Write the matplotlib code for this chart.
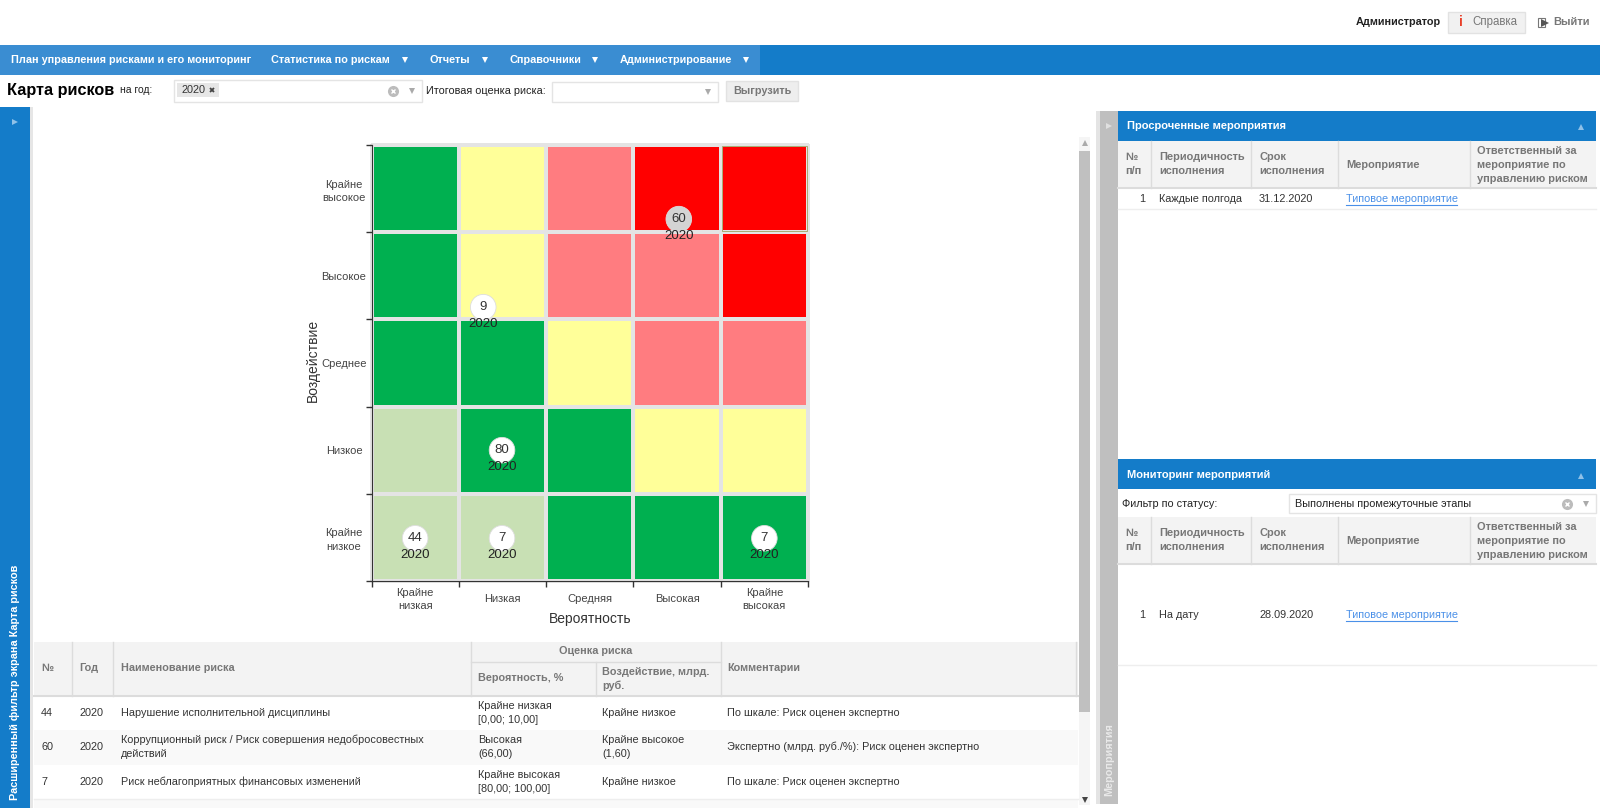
#!/usr/bin/env python3
"""
Карта рисков: экран с матрицей 5x5, таблицей рисков и панелями мероприятий.
"""
import matplotlib
matplotlib.use("Agg")
import matplotlib.pyplot as plt
from matplotlib.colors import ListedColormap
from matplotlib.patches import Rectangle

plt.rcParams["font.family"] = ["Liberation Sans", "DejaVu Sans"]

# ── Данные ─────────────────────────────────────────────────────────────────────
prob_labels = ["Крайне\nнизкая", "Низкая", "Средняя", "Высокая", "Крайне\nвысокая"]
impact_labels = ["Крайне\nнизкое", "Низкое", "Среднее", "Высокое", "Крайне\nвысокое"]

# снизу вверх; 0 светло-зеленый, 1 зеленый, 2 желтый, 3 розовый, 4 красный
levels = [
    [0, 0, 1, 1, 1],
    [0, 1, 1, 2, 2],
    [1, 1, 2, 3, 3],
    [1, 2, 3, 3, 4],
    [1, 2, 3, 4, 4],
]
level_colors = ["#c8e0b4", "#00b050", "#ffff99", "#ff7c80", "#ff0000"]

risk_ids = [60, 9, 80, 44, 7, 7]
risk_x = [3.52, 1.28, 1.495, 0.50, 1.495, 4.50]
risk_y = [4.15, 3.14, 1.50, 0.49, 0.49, 0.49]
risk_years = [2020, 2020, 2020, 2020, 2020, 2020]
risk_fill = ["#d4d4d4", "white", "white", "white", "white", "white"]

nav_items = ["План управления рисками и его мониторинг", "Статистика по рискам",
             "Отчеты", "Справочники", "Администрирование"]
nav_x = [11, 271, 430, 509, 620]
nav_arrows = [405, 485, 595, 746]

risk_rows = [
    ("44", "2020", "Нарушение исполнительной дисциплины", "Крайне низкая\n[0,00; 10,00]",
     "Крайне низкое", "По шкале: Риск оценен экспертно"),
    ("60", "2020", "Коррупционный риск / Риск совершения недобросовестных\nдействий", "Высокая\n(66,00)",
     "Крайне высокое\n(1,60)", "Экспертно (млрд. руб./%): Риск оценен экспертно"),
    ("7", "2020", "Риск неблагоприятных финансовых изменений", "Крайне высокая\n[80,00; 100,00]",
     "Крайне низкое", "По шкале: Риск оценен экспертно"),
]

event_cols = ["№\nп/п", "Периодичность\nисполнения", "Срок\nисполнения", "Мероприятие",
              "Ответственный за\nмероприятие по\nуправлению риском"]
event_sep = [1151, 1251, 1338, 1470]
event_text_x = [1125, 1159, 1259, 1346, 1477]

BLUE = "#147cc9"
NAV = "#3a8dd2"
HEAD = "#f3f3f3"
LINE = "#dcdcdc"
GRAY = "#777777"
TEXT = "#333333"
LINK = "#4a90e8"

fig = plt.figure(figsize=(16, 8.08), dpi=100)
ui = fig.add_axes([0, 0, 1, 1])
ui.set_xlim(0, 1600)
ui.set_ylim(808, 0)
ui.axis("off")


def rect(x0, y0, x1, y1, color, edge="none", lw=0):
    ui.add_patch(Rectangle((x0, y0), x1 - x0, y1 - y0, facecolor=color, edgecolor=edge, linewidth=lw))


def txt(x, y, s, size=7.8, color=TEXT, weight="normal", ha="left", rotation=0, va="center"):
    ui.text(x, y, s, fontsize=size, color=color, fontweight=weight, ha=ha, va=va,
            rotation=rotation, linespacing=1.5, rotation_mode="anchor")


def tri(x, y, marker="v", color="white", size=4):
    ui.plot([x], [y], marker=marker, color=color, markersize=size, markeredgewidth=0)


def clear_icon(x, y):
    ui.plot([x], [y], marker="o", color="#bcbcbc", markersize=8, markeredgewidth=0)
    ui.plot([x], [y], marker="x", color="white", markersize=3.5, markeredgewidth=1)


def event_table(y0, y1):
    rect(1118, y0, 1596, y1, HEAD)
    ui.plot([1118, 1596], [y1, y1], color=LINE, lw=1.5)
    for x in event_sep:
        ui.plot([x, x], [y0, y1], color=LINE, lw=1)
    ym = (y0 + y1) / 2
    for x, s in zip(event_text_x, event_cols):
        txt(x, ym, s, size=7.9, color=GRAY, weight="bold")


def event_row(y, line_y, num, period, date):
    txt(1145, y, num, ha="right")
    txt(1159, y, period)
    txt(1259, y, date)
    txt(1346, y, "Типовое мероприятие", color=LINK)
    ui.plot([1346, 1457], [y + 6, y + 6], color=LINK, lw=0.8)
    ui.plot([1118, 1596], [line_y, line_y], color="#eeeeee", lw=1)


# ── Шапка и меню ───────────────────────────────────────────────────────────────
txt(1356, 22, "Администратор", weight="bold", color="#222222")
ui.add_patch(Rectangle((1448, 12), 77, 21, facecolor="#f1f1f1", edgecolor="#e2e2e2", linewidth=1))
txt(1461, 22.5, "i", size=10, color="#e8402a", weight="bold", ha="center")
txt(1472, 22, "Справка", color=GRAY, size=8.3)
ui.add_patch(Rectangle((1538, 18), 7, 9, facecolor="none", edgecolor="#777777", linewidth=0.8))
tri(1545, 22.5, ">", "#555555", 6)
txt(1553, 22, "Выйти", color=GRAY, size=8, weight="bold")

rect(0, 45, 1600, 75, BLUE)
rect(0, 45, 760, 75, NAV)
for x, s in zip(nav_x, nav_items):
    txt(x, 60, s, size=7.8, color="white", weight="bold")
for x in nav_arrows:
    tri(x, 60)

# ── Фильтры ────────────────────────────────────────────────────────────────────
txt(7, 91, "Карта рисков", size=11.7, color="black", weight="bold")
txt(120, 90, "на год:", size=7.5, color="#222222")
ui.add_patch(Rectangle((173.5, 80), 248.5, 22, facecolor="white", edgecolor="#e4e4e4", linewidth=1))
ui.add_patch(Rectangle((177, 83), 42, 14, facecolor="#e6e6e6", edgecolor="none"))
txt(181, 90, "2020", size=7.8)
ui.plot([212], [90], marker="x", color="#444444", markersize=3.5, markeredgewidth=1.3)
clear_icon(393, 91)
tri(412, 91, "v", "#aaaaaa", 4)
txt(426, 91, "Итоговая оценка риска:", size=7.8, color="#222222")
ui.add_patch(Rectangle((552, 82), 166, 20, facecolor="white", edgecolor="#e4e4e4", linewidth=1))
tri(708, 92, "v", "#aaaaaa", 4)
ui.add_patch(Rectangle((725.5, 81), 72.5, 20, facecolor="#eeeeee", edgecolor="#e2e2e2", linewidth=1))
txt(762, 91, "Выгрузить", size=7.8, color=GRAY, weight="bold", ha="center")

# ── Боковые панели и прокрутка ─────────────────────────────────────────────────
rect(0, 107, 30, 808, BLUE)
rect(30, 107, 33, 808, "#e6e6e6")
tri(15, 122, ">", "#8fc1e8", 5)
txt(15, 800, "Расширенный фильтр экрана Карта рисков", size=7.8, color="white", weight="bold",
    rotation=90, va="center")

rect(1079, 137, 1090, 805, "#f5f5f5")
rect(1079, 151, 1090, 712, "#c0c0c0")
tri(1084.5, 143, "^", "#aaaaaa", 4)
tri(1084.5, 800, "v", "#444444", 4)

rect(1096, 111, 1100, 804, "#e4e4e4")
rect(1100, 111, 1118, 804, "#bfbfbf")
tri(1109, 126, ">", "#e0e0e0", 5)
txt(1109, 796, "Мероприятия", size=7.8, color="#e9e9e9", weight="bold", rotation=90)

# ── Панель просроченных мероприятий ────────────────────────────────────────────
rect(1118, 111, 1596, 141, BLUE)
txt(1127, 126, "Просроченные мероприятия", size=8, color="white", weight="bold")
tri(1581, 127, "^", "#8fc1e8", 5)
event_table(141, 188)
event_row(199, 209, "1", "Каждые полгода", "31.12.2020")

# ── Панель мониторинга ─────────────────────────────────────────────────────────
rect(1118, 459, 1596, 489, BLUE)
txt(1127, 475, "Мониторинг мероприятий", size=8, color="white", weight="bold")
tri(1581, 476, "^", "#8fc1e8", 5)
txt(1122, 504, "Фильтр по статусу:", color="#222222")
ui.add_patch(Rectangle((1289, 494), 307, 19, facecolor="white", edgecolor="#e4e4e4", linewidth=1))
txt(1295, 504, "Выполнены промежуточные этапы", color="#222222")
clear_icon(1567, 504)
tri(1586, 504, "v", "#aaaaaa", 4)
event_table(517, 564)
event_row(615, 665, "1", "На дату", "28.09.2020")

# ── Таблица рисков ─────────────────────────────────────────────────────────────
rect(34, 642, 1078, 696, HEAD)
ui.plot([34, 1078], [696, 696], color=LINE, lw=1.5)
for x in [72, 113, 471, 720.5, 1076]:
    ui.plot([x, x], [642, 696], color=LINE, lw=1)
ui.plot([595.5, 595.5], [662, 696], color=LINE, lw=1)
ui.plot([471, 720.5], [662, 662], color=LINE, lw=1)
txt(595.5, 651, "Оценка риска", color=GRAY, weight="bold", ha="center")
txt(478, 678, "Вероятность, %", color=GRAY, weight="bold")
txt(602, 679, "Воздействие, млрд.\nруб.", color=GRAY, weight="bold")
txt(41, 668, "№", color=GRAY, weight="bold")
txt(79, 668, "Год", color=GRAY, weight="bold")
txt(121, 668, "Наименование риска", color=GRAY, weight="bold")
txt(727, 668, "Комментарии", color=GRAY, weight="bold")

rect(34, 730, 1078, 765, "#f9f9f9")
rect(34, 799, 1078, 808, "#f9f9f9")
ui.plot([34, 1078], [799, 799], color="#eeeeee", lw=1)
row_y = [713, 747, 782]
col_x = [41, 79, 121, 478, 602, 727]
for y, row in zip(row_y, risk_rows):
    for x, s in zip(col_x, row):
        txt(x, y, s)

# ── Матрица рисков ─────────────────────────────────────────────────────────────
ax = fig.add_axes([371.5 / 1600, 1 - 581 / 808, 436.5 / 1600, 436 / 808])
ax.set_xlim(0, 5)
ax.set_ylim(0, 5)
ax.pcolormesh(range(6), range(6), levels, cmap=ListedColormap(level_colors), vmin=0, vmax=4,
              edgecolors="#e4e4e4", linewidth=1.5, clip_on=False)
ax.add_patch(Rectangle((4.012, 4.012), 0.976, 0.976, facecolor="none", edgecolor="#a0a060", linewidth=0.6))
ax.set_facecolor("none")
ax.scatter(risk_x, risk_y, s=340, c=risk_fill, edgecolors="#dddddd", linewidths=0.6, zorder=3, clip_on=False)
for x, y, i, yr in zip(risk_x, risk_y, risk_ids, risk_years):
    ax.text(x, y, str(i), fontsize=9.5, color="#333333", ha="center", va="center", zorder=4)
    ax.annotate(str(yr), (x, y), xytext=(0, -12), textcoords="offset points", fontsize=9.5,
                color="#222222", ha="center", va="center", zorder=4)

ax.set_xticks(range(6))
ax.set_yticks(range(6))
ax.set_xticklabels([])
ax.set_yticklabels([])
ax.set_xticks([i + 0.5 for i in range(5)], labels=prob_labels, minor=True)
ax.set_yticks([i + 0.5 for i in range(5)], labels=impact_labels, minor=True)
ax.tick_params(which="major", length=4, width=1, color="#333333")
ax.tick_params(which="minor", length=0, labelsize=8, labelcolor="#444444")
ax.tick_params(axis="x", which="minor", pad=13.3)
ax.tick_params(axis="y", which="minor", pad=19.8)
for lab in ax.get_xticklabels(minor=True):
    lab.set_va("center")
    lab.set_ha("center")
    lab.set_linespacing(1.45)
for lab in ax.get_yticklabels(minor=True):
    lab.set_ha("center")
    lab.set_linespacing(1.45)
for side in ["top", "right"]:
    ax.spines[side].set_visible(False)
for side in ["left", "bottom"]:
    ax.spines[side].set_color("#333333")
ax.set_xlabel("Вероятность", fontsize=10, color="#333333", va="center")
ax.set_ylabel("Воздействие", fontsize=10, color="#333333", va="center")
ax.xaxis.set_label_coords(0.5, -38 / 436)
ax.yaxis.set_label_coords(-59 / 436.5, 0.507)

fig.savefig("out.png", dpi=100)
